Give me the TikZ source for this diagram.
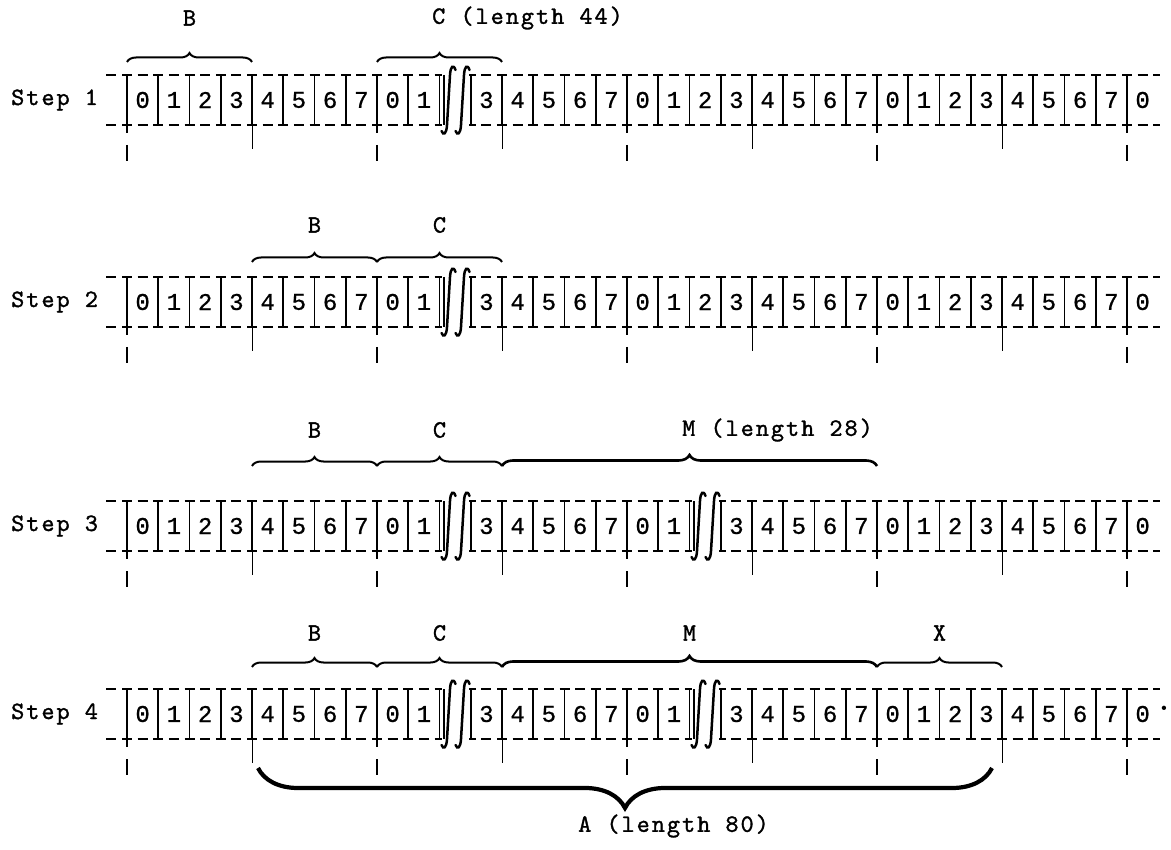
\documentclass[tikz,border=0pt]{standalone}
\usepackage{fontspec}
\newfontfamily\typefont{lmmono10-regular.otf}[LetterSpace=8, FakeBold=1.2]
\newfontfamily\cellfont{Liberation Mono}[FakeBold=0.8]
\usetikzlibrary{decorations.pathreplacing,positioning,calc}

% one row of the tape: #1 name, #2 label, #3 middle y, #4 second break cell (99 = none)
\newcommand{\taperow}[4]{%
  \node[steplabel] (#1lab) at (11, #3) {#2};
  \draw[rule] (106.375, #3-25) -- (1160, #3-25);
  \draw[rule] (106.375, #3+25) -- (1160, #3+25);
  \foreach \i in {0,...,32}{
    \pgfmathsetmacro\xs{127+31.25*\i}
    \pgfmathtruncatemacro\celldigit{mod(\i,8)}
    \coordinate (#1s\i) at (\xs, #3-25);
    \draw[sep] (\xs, #3-25) -- (\xs, #3+25);
    \ifnum\i=10 \else\ifnum\i=#4\relax\else
      \node[cell] (#1c\i) at (\xs+15.625, #3) {\celldigit};
    \fi\fi
  }
  % ticks under the tape
  \foreach \i in {0,8,16,24,32}{
    \pgfmathsetmacro\xs{127+31.25*\i}
    \draw[sep] (\xs, #3+25) -- (\xs, #3+33);
    \draw[majortick] (\xs, #3+45) -- (\xs, #3+61);
  }
  \foreach \i in {4,12,20,28}{
    \pgfmathsetmacro\xs{127+31.25*\i}
    \draw[minortick] (\xs, #3+25) -- (\xs, #3+49);
  }
  % break marks
  \foreach \b in {10,#4}{
    \ifnum\b<33
      \pgfmathsetmacro\xb{127+31.25*\b}
      \fill[white] (\xb+2, #3-28) rectangle (\xb+29.5, #3-22);
      \fill[white] (\xb+2, #3+22) rectangle (\xb+29.5, #3+28);
      \draw[sep] (\xb+4.5, #3-25) -- (\xb+4.5, #3+25);
      \draw[brk] (\xb+16, #3-30) .. controls (\xb+14, #3-36) and (\xb+11, #3-34) .. (\xb+10.5, #3-25)
        -- (\xb+7.5, #3+25) .. controls (\xb+7, #3+34) and (\xb+4, #3+36) .. (\xb+2, #3+31);
      \draw[brk] (\xb+30, #3-30) .. controls (\xb+28, #3-36) and (\xb+25, #3-34) .. (\xb+24.5, #3-25)
        -- (\xb+21.5, #3+25) .. controls (\xb+21, #3+34) and (\xb+18, #3+36) .. (\xb+16, #3+31);
    \fi
  }
}

\begin{document}
\begin{tikzpicture}[x=1pt, y=-1pt,
    rule/.style={line width=1.9pt, dash pattern=on 10pt off 5.625pt},
    sep/.style={line width=1.9pt},
    cell/.style={font=\cellfont\fontsize{24}{24}\selectfont, inner sep=0pt},
    steplabel/.style={font=\typefont\fontsize{25}{25}\selectfont, anchor=west, inner sep=0pt},
    bracelabel/.style={font=\typefont\fontsize{25}{25}\selectfont, inner sep=0pt},
    topbrace/.style={decorate, decoration={brace, amplitude=9pt}, line width=2pt},
    longbrace/.style={decorate, decoration={brace, amplitude=11pt}, line width=2.6pt},
    bigbrace/.style={decorate, decoration={brace, amplitude=40pt, mirror}, line width=4.2pt},
    minortick/.style={line width=0.9pt},
    majortick/.style={line width=2.3pt},
    brk/.style={line width=2.5pt, line cap=round}]

    \useasboundingbox (0,0) rectangle (1171,850);

    % Step 1
    \taperow{r1}{Step 1}{100}{99}
    \draw[topbrace] ([yshift=13pt]r1s0) -- ([yshift=13pt]r1s4);
    \draw[topbrace] ([yshift=13pt]r1s8) -- ([yshift=13pt]r1s12);
    \node[bracelabel] (r1B) at ($(r1s0)!0.5!(r1s4)+(0,-57)$) {B};
    \node[bracelabel, anchor=west] (r1C) at ($(r1s8)!0.5!(r1s12)+(-7.5,-57)$) {C (length 44)};

    % Step 2
    \taperow{r2}{Step 2}{302}{99}
    \draw[topbrace] ([yshift=15pt]r2s4) -- ([yshift=15pt]r2s8);
    \draw[topbrace] ([yshift=15pt]r2s8) -- ([yshift=15pt]r2s12);
    \node[bracelabel] (r2B) at ($(r2s4)!0.5!(r2s8)+(0,-52)$) {B};
    \node[bracelabel] (r2C) at ($(r2s8)!0.5!(r2s12)+(0,-52)$) {C};

    % Step 3
    \taperow{r3}{Step 3}{526}{18}
    \draw[topbrace] ([yshift=35pt]r3s4) -- ([yshift=35pt]r3s8);
    \draw[topbrace] ([yshift=35pt]r3s8) -- ([yshift=35pt]r3s12);
    \draw[longbrace] ([yshift=35pt]r3s12) -- ([yshift=35pt]r3s24);
    \node[bracelabel] (r3B) at ($(r3s4)!0.5!(r3s8)+(0,-71)$) {B};
    \node[bracelabel] (r3C) at ($(r3s8)!0.5!(r3s12)+(0,-71)$) {C};
    \node[bracelabel, anchor=west] (r3M) at ($(r3s12)!0.5!(r3s24)+(-7.5,-71)$) {M (length 28)};

    % Step 4
    \taperow{r4}{Step 4}{714}{18}
    \draw[topbrace] ([yshift=22pt]r4s4) -- ([yshift=22pt]r4s8);
    \draw[topbrace] ([yshift=22pt]r4s8) -- ([yshift=22pt]r4s12);
    \draw[longbrace] ([yshift=22pt]r4s12) -- ([yshift=22pt]r4s24);
    \draw[topbrace] ([yshift=22pt]r4s24) -- ([yshift=22pt]r4s28);
    \node[bracelabel] (r4B) at ($(r4s4)!0.5!(r4s8)+(0,-56)$) {B};
    \node[bracelabel] (r4C) at ($(r4s8)!0.5!(r4s12)+(0,-56)$) {C};
    \node[bracelabel] (r4M) at ($(r4s12)!0.5!(r4s24)+(0,-56)$) {M};
    \node[bracelabel] (r4X) at ($(r4s24)!0.5!(r4s28)+(0,-56)$) {X};
    \node[font=\fontsize{30}{30}\selectfont\bfseries, inner sep=0pt] (r4end) at (1164, 708) {.};

    % A under step 4
    \coordinate (aleft) at (258, 768);
    \coordinate (aright) at (992, 768);
    \draw[bigbrace] (aleft) -- (aright);
    \node[bracelabel, anchor=west] (r4A) at (578, 826) {A (length 80)};

\end{tikzpicture}
\end{document}
